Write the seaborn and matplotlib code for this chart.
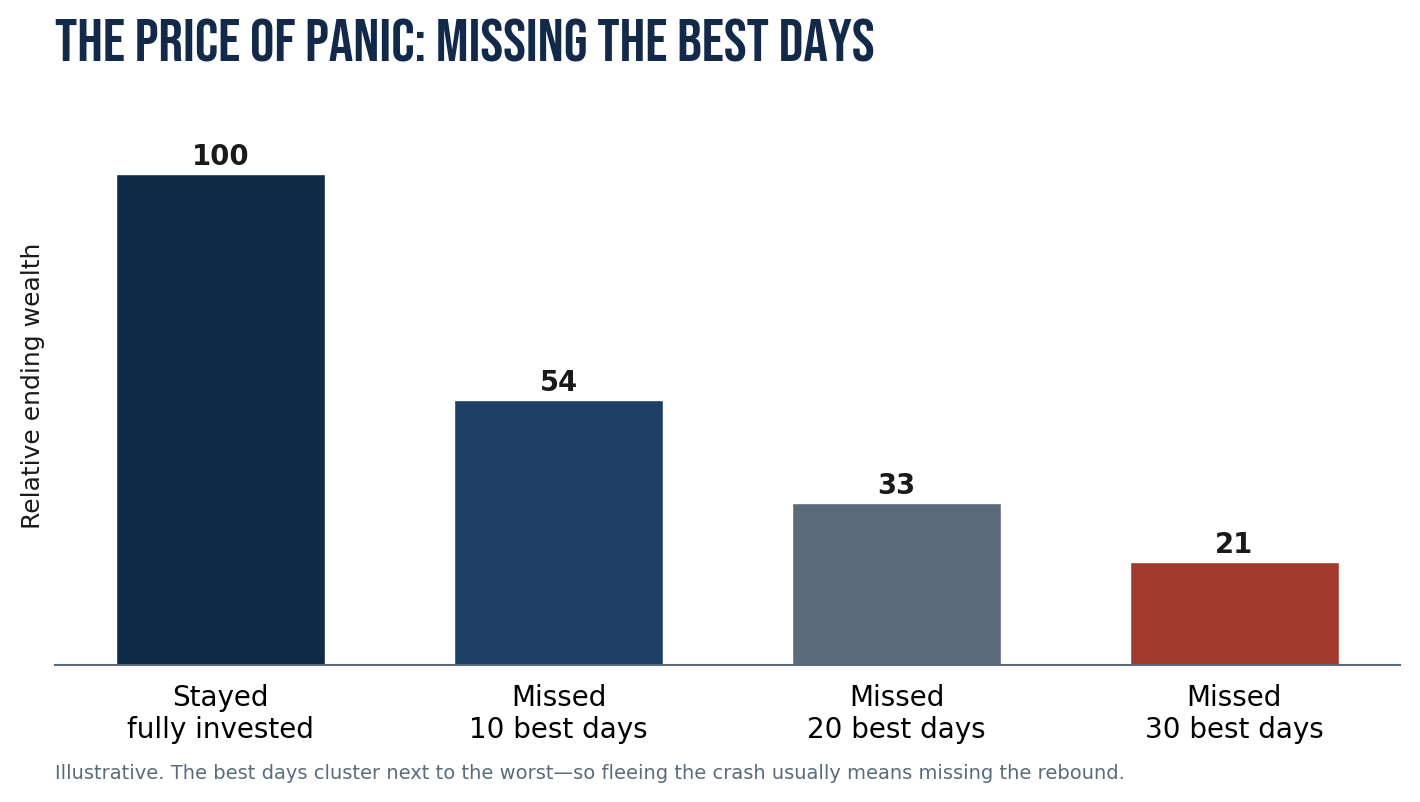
import matplotlib
matplotlib.use("Agg")
import matplotlib.pyplot as plt
import seaborn as sns
import pandas as pd

categories = ["Stayed\nfully invested", "Missed\n10 best days", "Missed\n20 best days", "Missed\n30 best days"]
values = [100, 54, 33, 21]
colors = ["#0f2a47", "#1e3f66", "#5b6b7c", "#a23b2e"]

title = "THE PRICE OF PANIC: MISSING THE BEST DAYS"
ylabel = "Relative ending wealth"
footnote = "Illustrative. The best days cluster next to the worst\u2014so fleeing the crash usually means missing the rebound."

sns.set_theme(style="white")
plt.rcParams["font.family"] = ["DejaVu Sans"]

df = pd.DataFrame({"cat": categories, "val": values})

fig = plt.figure(figsize=(14.2, 8.03), dpi=100)
ax = fig.add_axes([55/1420, (803-666)/803, (1400-55)/1420, (666-105)/803])

sns.barplot(data=df, x="cat", y="val", hue="cat", palette=colors, legend=False,
            width=0.62, saturation=1, ax=ax)

ax.set_ylim(0, 114.25)
ax.set_xlim(-0.49, 3.49)
ax.set_yticks([])
ax.set_xlabel("")
ax.set_ylabel(ylabel, fontsize=18, color="#1a1a1a", labelpad=7)
for s in ["top", "right", "left"]:
    ax.spines[s].set_visible(False)
ax.spines["bottom"].set_color("#5b6b7c")
ax.spines["bottom"].set_linewidth(1.5)
ax.tick_params(axis="x", length=0, labelsize=20, colors="black", pad=13)

for i, v in enumerate(values):
    ax.text(i, v + 0.8, str(v), ha="center", va="bottom", fontsize=19.8,
            fontweight="bold", color="#1a1a1a")

fig.text(55/1420, 1 - 62/803, title, ha="left", va="baseline", fontsize=44,
         family=["Bebas Neue", "DejaVu Sans"], color="#12294a")
fig.text(55/1420, 1 - 774/803, footnote, ha="left", va="center", fontsize=14,
         color="#5b6b7c")

fig.savefig("out.png", dpi=100)
